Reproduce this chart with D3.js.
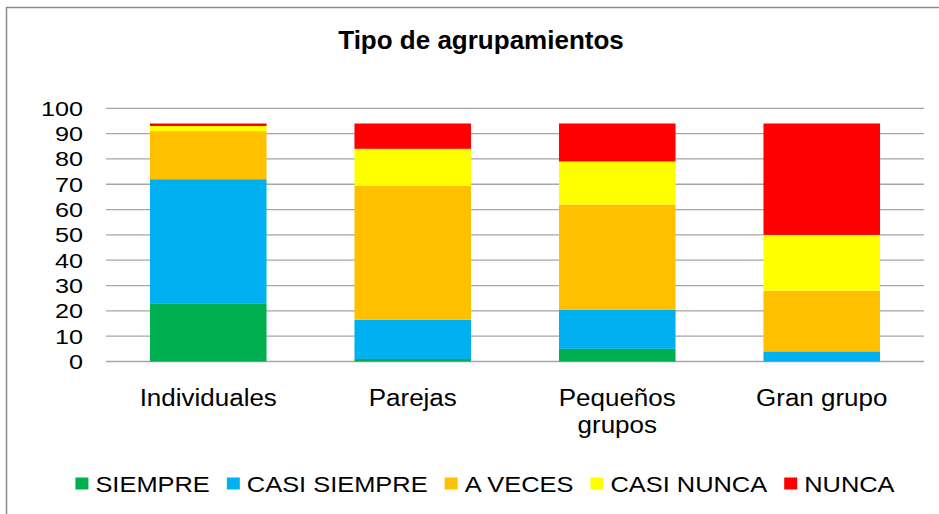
<!DOCTYPE html>
<html>
<head>
<meta charset="utf-8">
<script src="https://cdn.jsdelivr.net/npm/d3@7"></script>
<style>
  body { margin: 0; background: #fff; }
  text { font-family: "Liberation Sans", Arial, sans-serif; fill: #000; }
</style>
</head>
<body>
<div id="chart"></div>
<script>
// DATA
const categories = ["Individuales", "Parejas", "Pequeños grupos", "Gran grupo"];
const seriesNames = ["SIEMPRE", "CASI SIEMPRE", "A VECES", "CASI NUNCA", "NUNCA"];
const siempre     = [23, 1, 5, 0];
const casiSiempre = [49, 15.5, 15.5, 4];
const aVeces      = [19, 53, 41.5, 24];
const casiNunca   = [2, 14.5, 17, 22];
const nunca       = [1, 10, 15, 44];
const yTicks = [0, 10, 20, 30, 40, 50, 60, 70, 80, 90, 100];
const colors = ["#00B050", "#00B0F0", "#FFC000", "#FFFF00", "#FF0000"];

const W = 939, H = 514;
const stretch = 1.13; // text in the picture is a bit wide

const svg = d3.select("#chart").append("svg")
    .attr("width", W)
    .attr("height", H);

// outer frame
svg.append("path")
    .attr("d", `M6.5,${H} L6.5,7.5 L${W},7.5`)
    .attr("fill", "none")
    .attr("stroke", "#8c8c8c")
    .attr("stroke-width", 1.5);

// title
svg.append("text")
    .attr("x", 481)
    .attr("y", 49)
    .attr("text-anchor", "middle")
    .style("font-weight", "bold")
    .style("font-size", "26px")
    .text("Tipo de agrupamientos");

// SCALES
const plot = { left: 106, right: 924, top: 108.3, bottom: 361.5 };

const x = d3.scaleBand()
    .domain(categories)
    .range([plot.left, plot.right])
    .paddingInner(0.43)
    .paddingOuter(0.215);

const y = d3.scaleLinear()
    .domain([0, 100])
    .range([plot.bottom, plot.top]);

// gridlines
svg.append("g")
    .selectAll("line")
    .data(yTicks)
    .join("line")
    .attr("x1", plot.left)
    .attr("x2", plot.right)
    .attr("y1", d => y(d))
    .attr("y2", d => y(d))
    .attr("stroke", "#a6a6a6")
    .attr("stroke-width", 1.3);

// y tick labels
svg.append("g")
    .selectAll("text")
    .data(yTicks)
    .join("text")
    .attr("transform", d => `translate(83,${y(d) + 7.5}) scale(1.2,1)`)
    .attr("text-anchor", "end")
    .style("font-size", "21px")
    .text(d => d);

// STACK
const table = categories.map((c, i) => ({
    cat: c,
    "SIEMPRE": siempre[i],
    "CASI SIEMPRE": casiSiempre[i],
    "A VECES": aVeces[i],
    "CASI NUNCA": casiNunca[i],
    "NUNCA": nunca[i]
}));
const stacked = d3.stack().keys(seriesNames)(table);

svg.append("g")
    .selectAll("g")
    .data(stacked)
    .join("g")
    .attr("fill", (d, i) => colors[i])
    .selectAll("rect")
    .data(d => d)
    .join("rect")
    .attr("x", d => x(d.data.cat))
    .attr("width", x.bandwidth())
    .attr("y", d => y(d[1]))
    .attr("height", d => y(d[0]) - y(d[1]));

// x category labels (wrap two-word long labels)
const catLabels = svg.append("g")
    .selectAll("text")
    .data(categories)
    .join("text")
    .attr("transform", d => `translate(${x(d) + x.bandwidth() / 2},405.5) scale(${stretch},1)`)
    .attr("text-anchor", "middle")
    .style("font-size", "23px");

catLabels.each(function (d) {
    const lines = d === "Pequeños grupos" ? ["Pequeños", "grupos"] : [d];
    d3.select(this).selectAll("tspan")
        .data(lines)
        .join("tspan")
        .attr("x", 0)
        .attr("dy", (l, i) => i === 0 ? 0 : 27.5)
        .text(l => l);
});

// LEGEND
const legend = svg.append("g");
let lx = 0;
seriesNames.forEach((name, i) => {
    const g = legend.append("g").attr("transform", `translate(${lx},0)`);
    g.append("rect")
        .attr("x", 0)
        .attr("y", -14)
        .attr("width", 13)
        .attr("height", 12)
        .attr("fill", colors[i]);
    const t = g.append("text")
        .attr("transform", `translate(20,0) scale(${stretch},1)`)
        .style("font-size", "22.5px")
        .text(name);
    const w = t.node().getComputedTextLength() * stretch;
    lx += 20 + w + 17;
});
const legendW = lx - 17;
legend.attr("transform", `translate(${485 - legendW / 2},491.5)`);
</script>
</body>
</html>
